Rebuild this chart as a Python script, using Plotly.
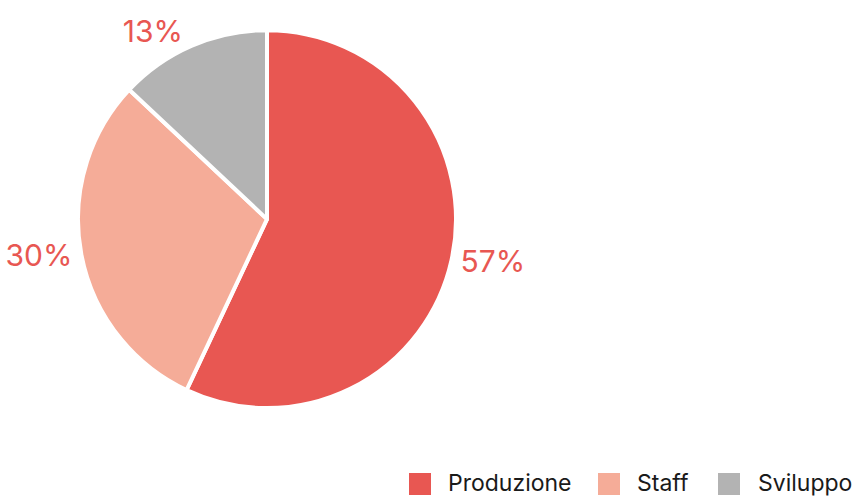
import plotly.graph_objects as go

categories = ["Produzione", "Staff", "Sviluppo"]
values = [57, 30, 13]
colors = ["#E85752", "#F5AC98", "#B3B3B3"]

W, H = 862, 498

fig = go.Figure(go.Pie(
    labels=categories,
    values=values,
    sort=False,
    direction="clockwise",
    rotation=0,
    marker=dict(colors=colors, line=dict(color="white", width=4)),
    textinfo="percent",
    texttemplate="%{percent:.0%}",
    textposition="outside",
    outsidetextfont=dict(color="#E85752", size=30, family="Inter"),
    domain=dict(x=[0.0905, 0.529], y=[0.178, 0.942]),
    hoverinfo="label+percent",
    showlegend=False,
))

# custom legend (large square swatches)
legend_square_x = [409, 598, 718]
legend_text_x = [447, 636, 757]
sq_top, sq_bot = 473, 495
for cat, col, sx, tx in zip(categories, colors, legend_square_x, legend_text_x):
    fig.add_shape(type="rect", xref="paper", yref="paper",
                  x0=sx / W, x1=(sx + 22) / W,
                  y0=(H - sq_bot) / H, y1=(H - sq_top) / H,
                  fillcolor=col, line=dict(width=0))
    fig.add_annotation(xref="paper", yref="paper", x=tx / W, y=(H - 483) / H,
                       xanchor="left", yanchor="middle", text=cat, showarrow=False,
                       font=dict(size=23, color="#1a1a1a", family="Inter"),
                       borderpad=0)

fig.update_layout(
    width=W, height=H,
    margin=dict(l=0, r=0, t=0, b=0),
    paper_bgcolor="white",
    font=dict(family="Inter", color="#1a1a1a"),
    showlegend=False,
)

fig.write_html("out.html")
